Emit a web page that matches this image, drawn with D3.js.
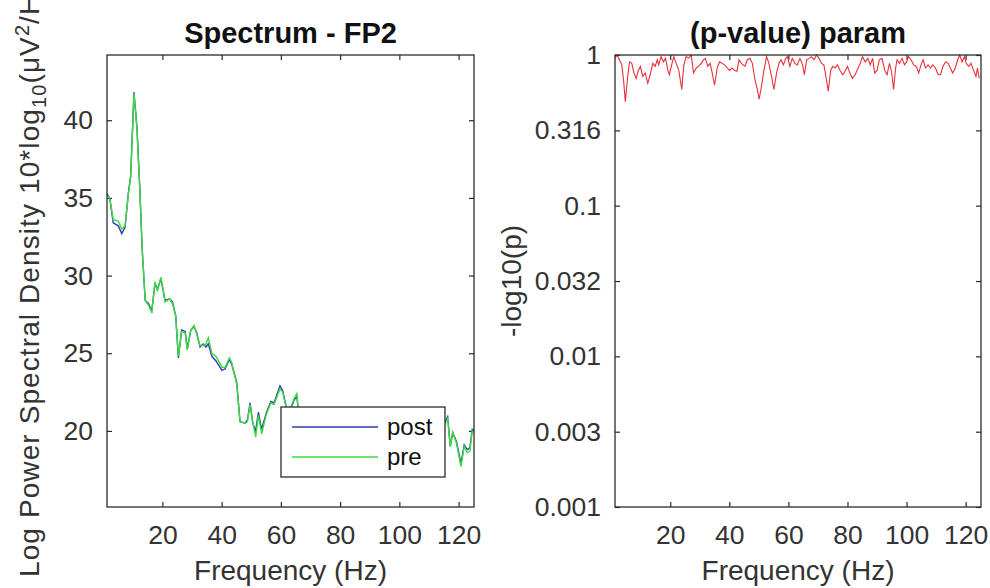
<!DOCTYPE html>
<html>
<head>
<meta charset="utf-8">
<script src="https://cdn.jsdelivr.net/npm/d3@7"></script>
<style>
  body { margin: 0; background: #fff; }
  text { font-family: "Liberation Sans", Arial, Helvetica, sans-serif; }
</style>
</head>
<body>
<div id="container"></div>
<script>
// spectrum (dB)
var freqs = [1.3, 2.3, 3.4, 5.1, 6.3, 7.4, 8.5, 9.3, 10.4, 11.4, 12.4, 13.2, 14.2, 15.3, 16.4, 17.5, 18.3, 19.5, 20.9, 22.4,
  23.4, 24.5, 25.4, 26.5, 27.7, 28.4, 29.6, 30.7, 31.6, 32.7, 33.8, 34.7, 35.5, 36.7, 38.1, 40.1, 41.2, 42.6, 43.4, 45.1,
  46.2, 47.9, 48.7, 49.6, 50.5, 51.5, 52.4, 53.5, 55, 56.6, 57.7, 59.7, 60.6, 61.4, 62.5, 63.5, 64.5, 65.4, 66.2, 67.5,
  70, 73, 76, 79, 82, 85, 88, 91, 94, 97, 100, 103, 106, 109, 112, 114.5, 116.3, 117.2, 118, 119.3,
  120.8, 121.9, 122.9, 123.8, 124.6, 125.2];
var post = [35.3, 34.9, 33.4, 33.2, 32.7, 33.1, 35.3, 36.4, 41.8, 39.6, 35.5, 31.6, 28.4, 28.2, 27.7, 29.5, 29.1, 29.8, 28.4, 28.5,
  28.3, 27.4, 24.7, 26.5, 26.4, 25.3, 26.5, 26.7, 26.3, 25.4, 25.6, 25.4, 25.6, 24.8, 24.5, 23.9, 24.0, 24.6, 24.3, 23.1,
  20.6, 20.5, 20.7, 21.8, 20.5, 20.0, 21.2, 20.1, 21.1, 21.9, 21.8, 22.9, 22.6, 21.9, 21.0, 21.5, 22.0, 22.2, 20.8, 21.0,
  20.4, 20.8, 20.2, 20.6, 20.0, 20.5, 19.8, 20.3, 19.9, 20.4, 19.6, 20.1, 19.7, 20.3, 19.8, 20.2, 20.9, 19.0, 19.9, 19.3,
  17.9, 19.1, 18.8, 18.9, 20.1, 20.0];
var pre = [35.2, 34.9, 33.6, 33.5, 33.0, 33.2, 35.2, 36.4, 41.7, 39.5, 35.4, 31.7, 28.4, 28.1, 27.6, 29.6, 29.0, 29.9, 28.3, 28.5,
  28.2, 27.4, 24.8, 26.4, 26.3, 25.2, 26.5, 26.8, 26.2, 25.5, 25.5, 25.6, 26.0, 25.0, 24.8, 24.1, 24.1, 24.7, 24.4, 23.0,
  20.6, 20.5, 20.6, 21.7, 20.6, 19.6, 21.0, 19.8, 21.0, 21.8, 21.7, 22.7, 22.5, 21.8, 21.1, 21.6, 22.1, 22.4, 20.7, 20.9,
  20.3, 20.7, 20.1, 20.5, 19.9, 20.4, 19.7, 20.2, 19.8, 20.3, 19.5, 20.0, 19.6, 20.2, 19.7, 20.1, 20.8, 19.0, 19.9, 19.2,
  17.7, 19.0, 18.6, 18.7, 20.0, 19.9];

// p-values
var pFreqs = [1.3, 2.0, 2.8, 3.6, 4.2, 4.8, 5.6, 6.2, 7.0, 7.7, 8.5, 9.2, 9.9, 10.7, 11.5, 12.4, 13.2, 14.1, 14.9, 15.6,
  16.1, 16.9, 17.7, 18.4, 19.2, 19.7, 20.6, 21.2, 22.0, 22.9, 23.9, 24.6, 25.4, 26.2, 27.1, 27.9, 28.8, 29.6, 30.5, 31.3,
  31.9, 32.7, 33.5, 34.2, 35.0, 35.9, 36.7, 37.6, 38.4, 39.3, 40.1, 40.9, 41.8, 42.6, 43.3, 44.1, 45.3, 46.1, 47.0, 47.8,
  48.7, 49.5, 50.1, 50.9, 51.7, 52.6, 53.4, 54.3, 55.1, 56.0, 56.8, 57.5, 58.3, 59.1, 59.7, 60.5, 61.3, 62.2, 63.0, 63.9,
  64.8, 65.4, 66.2, 67.0, 67.8, 68.7, 69.5, 70.4, 71.2, 72.0, 72.7, 73.5, 74.3, 75.0, 75.8, 76.6, 77.5, 78.4, 79.2, 80.0,
  80.8, 81.7, 82.6, 83.6, 84.3, 85.1, 86.0, 86.9, 87.7, 88.5, 89.2, 90.0, 90.8, 91.7, 92.6, 93.4, 94.2, 94.9, 95.6, 96.3,
  96.8, 97.6, 98.5, 99.3, 100.0, 100.7, 101.5, 102.4, 103.3, 104.1, 104.9, 105.6, 106.4, 107.3, 108.1, 108.9, 109.8, 110.7, 111.5, 112.3,
  113.2, 114.1, 114.8, 115.6, 116.5, 117.3, 118.0, 118.8, 119.6, 120.2, 121.0, 121.8, 122.7, 123.5, 124.0, 124.6, 125.2];
var pValues = [0.95, 1.0, 0.93, 0.86, 0.68, 0.49, 0.72, 0.90, 0.88, 0.76, 0.70, 0.79, 0.84, 0.72, 0.76, 0.65, 0.74, 0.88, 0.84, 0.93,
  0.86, 0.975, 0.90, 0.95, 0.79, 0.74, 0.88, 0.975, 0.88, 0.79, 0.59, 0.86, 0.975, 0.95, 1.0, 0.76, 0.82, 0.84, 0.88, 0.93,
  0.95, 0.84, 0.88, 0.76, 0.63, 0.82, 0.90, 0.88, 0.86, 0.82, 0.79, 0.82, 0.79, 0.78, 0.93, 0.88, 0.84, 0.93, 0.95, 0.88,
  0.68, 0.59, 0.51, 0.62, 0.79, 0.975, 0.88, 0.72, 0.59, 0.76, 0.88, 0.93, 0.86, 0.95, 0.975, 0.84, 0.95, 0.88, 0.86, 0.95,
  0.86, 0.74, 0.93, 0.95, 0.975, 0.93, 1.0, 0.95, 0.88, 0.86, 0.72, 0.575, 0.79, 0.84, 0.82, 0.86, 0.79, 0.74, 0.78, 0.84,
  0.76, 0.70, 0.74, 0.82, 0.88, 0.975, 0.90, 0.95, 0.86, 0.95, 0.76, 0.79, 0.93, 0.95, 0.79, 0.74, 0.88, 0.78, 0.59, 0.82,
  0.93, 0.88, 0.95, 0.86, 0.90, 0.975, 0.93, 0.86, 0.84, 0.76, 0.86, 0.93, 0.82, 0.86, 0.82, 0.86, 0.82, 0.74, 0.74, 0.84,
  0.90, 0.88, 0.82, 0.76, 0.82, 0.93, 1.0, 0.90, 0.975, 0.88, 0.84, 0.88, 0.79, 0.72, 0.82, 0.70];

var freqTicks = [20, 40, 60, 80, 100, 120];
var powerTicks = [20, 25, 30, 35, 40];
var pTicks = [0.001, 0.00316, 0.01, 0.0316, 0.1, 0.316, 1];
var pTickLabels = ["0.001", "0.003", "0.01", "0.032", "0.1", "0.316", "1"];
var seriesNames = ["post", "pre"];

var width = 990, height = 588;
var axisColor = "#2b2b2b", textColor = "#333";
var blue = "#2f3db4", green = "#3ddc3d", red = "#e8303a";

var svg = d3.select("#container").append("svg")
    .attr("width", width)
    .attr("height", height);

var left = {x0: 107, x1: 474, y0: 55, y1: 507};
var right = {x0: 615, x1: 981, y0: 55, y1: 507};

var xL = d3.scaleLinear().domain([1.3, 125.2]).range([left.x0, left.x1]);
var yL = d3.scaleLinear().domain([15.1, 44.2]).range([left.y1, left.y0]);
var xR = d3.scaleLinear().domain([1.3, 125.2]).range([right.x0, right.x1]);
var yR = d3.scaleLog().domain([0.001, 1]).range([right.y1, right.y0]);

svg.append("clipPath").attr("id", "clipL").append("rect")
    .attr("x", left.x0).attr("y", left.y0)
    .attr("width", left.x1 - left.x0).attr("height", left.y1 - left.y0);
svg.append("clipPath").attr("id", "clipR").append("rect")
    .attr("x", right.x0).attr("y", right.y0 - 1)
    .attr("width", right.x1 - right.x0).attr("height", right.y1 - right.y0 + 1);

// draw box, inward ticks on all 4 sides
function frame(b, x, y, yTicks, yFormat) {
  svg.append("g")
      .attr("transform", "translate(0," + b.y1 + ")")
      .call(d3.axisBottom(x).tickValues(freqTicks).tickSize(-5).tickPadding(18))
      .call(style);
  svg.append("g")
      .attr("transform", "translate(0," + b.y0 + ")")
      .call(d3.axisTop(x).tickValues(freqTicks).tickSize(-5).tickFormat(""))
      .call(style);
  svg.append("g")
      .attr("transform", "translate(" + b.x0 + ",0)")
      .call(d3.axisLeft(y).tickValues(yTicks).tickSize(-5).tickPadding(14).tickFormat(yFormat))
      .call(style);
  svg.append("g")
      .attr("transform", "translate(" + b.x1 + ",0)")
      .call(d3.axisRight(y).tickValues(yTicks).tickSize(-5).tickFormat(""))
      .call(style);
}

function style(g) {
  g.select(".domain").remove();
  g.selectAll(".tick line").attr("stroke", axisColor).attr("stroke-width", 1.2);
  g.selectAll(".tick text")
      .attr("fill", textColor)
      .style("font-size", "26.5px")
      .style("font-family", "'Liberation Sans', Arial, sans-serif");
}

frame(left, xL, yL, powerTicks, d3.format("d"));
frame(right, xR, yR, pTicks, function (d, i) { return pTickLabels[i]; });

// spectrum lines
var lineL = d3.line()
    .x(function (d) { return xL(d[0]); })
    .y(function (d) { return yL(d[1]); });

svg.append("path")
    .datum(freqs.map(function (f, i) { return [f, post[i]]; }))
    .attr("clip-path", "url(#clipL)")
    .attr("fill", "none")
    .attr("stroke", blue)
    .attr("stroke-width", 1.4)
    .attr("d", lineL);

svg.append("path")
    .datum(freqs.map(function (f, i) { return [f, pre[i]]; }))
    .attr("clip-path", "url(#clipL)")
    .attr("fill", "none")
    .attr("stroke", green)
    .attr("stroke-width", 1.4)
    .attr("d", lineL);

// p-value line
var lineR = d3.line()
    .x(function (d) { return xR(d[0]); })
    .y(function (d) { return yR(d[1]); });

svg.append("path")
    .datum(pFreqs.map(function (f, i) { return [f, pValues[i]]; }))
    .attr("clip-path", "url(#clipR)")
    .attr("fill", "none")
    .attr("stroke", red)
    .attr("stroke-width", 1.1)
    .attr("d", lineR);

// boxes
[left, right].forEach(function (b) {
  svg.append("rect")
      .attr("x", b.x0).attr("y", b.y0)
      .attr("width", b.x1 - b.x0).attr("height", b.y1 - b.y0)
      .attr("fill", "none")
      .attr("stroke", axisColor)
      .attr("stroke-width", 1.3);
});

// legend
var leg = svg.append("g").attr("transform", "translate(281,407)");
leg.append("rect")
    .attr("width", 164).attr("height", 70)
    .attr("fill", "#fff")
    .attr("stroke", axisColor)
    .attr("stroke-width", 1.3);
seriesNames.forEach(function (name, i) {
  leg.append("line")
      .attr("x1", 11).attr("x2", 97)
      .attr("y1", 20 + i * 30).attr("y2", 20 + i * 30)
      .attr("stroke", i == 0 ? blue : green)
      .attr("stroke-width", 1.4);
  leg.append("text")
      .attr("x", 106).attr("y", 28 + i * 30)
      .attr("fill", "#111")
      .style("font-size", "24px")
      .text(name);
});

// titles
svg.append("text")
    .attr("x", (left.x0 + left.x1) / 2).attr("y", 43)
    .attr("text-anchor", "middle")
    .style("font-size", "29px").style("font-weight", "bold")
    .attr("fill", "#111")
    .text("Spectrum - FP2");
svg.append("text")
    .attr("x", (right.x0 + right.x1) / 2).attr("y", 43)
    .attr("text-anchor", "middle")
    .style("font-size", "29px").style("font-weight", "bold")
    .attr("fill", "#111")
    .text("(p-value) param");

// x labels
[left, right].forEach(function (b) {
  svg.append("text")
      .attr("x", (b.x0 + b.x1) / 2).attr("y", 580)
      .attr("text-anchor", "middle")
      .style("font-size", "28px")
      .attr("fill", textColor)
      .text("Frequency (Hz)");
});

// y labels (left one runs past the top edge, like the original)
var yl = svg.append("text")
    .attr("transform", "translate(39,577) rotate(-90)")
    .attr("text-anchor", "start")
    .style("font-size", "28px")
    .style("letter-spacing", "1.1px")
    .attr("fill", textColor);
yl.append("tspan").text("Log Power Spectral Density 10*log");
yl.append("tspan").attr("dy", 7).style("font-size", "20px").text("10");
yl.append("tspan").attr("dy", -7).text("(\u03bcV");
yl.append("tspan").attr("dy", -10).style("font-size", "20px").text("2");
yl.append("tspan").attr("dy", 10).text("/Hz)");

svg.append("text")
    .attr("transform", "translate(521," + (right.y0 + right.y1) / 2 + ") rotate(-90)")
    .attr("text-anchor", "middle")
    .style("font-size", "28px")
    .attr("fill", textColor)
    .text("-log10(p)");
</script>
</body>
</html>
